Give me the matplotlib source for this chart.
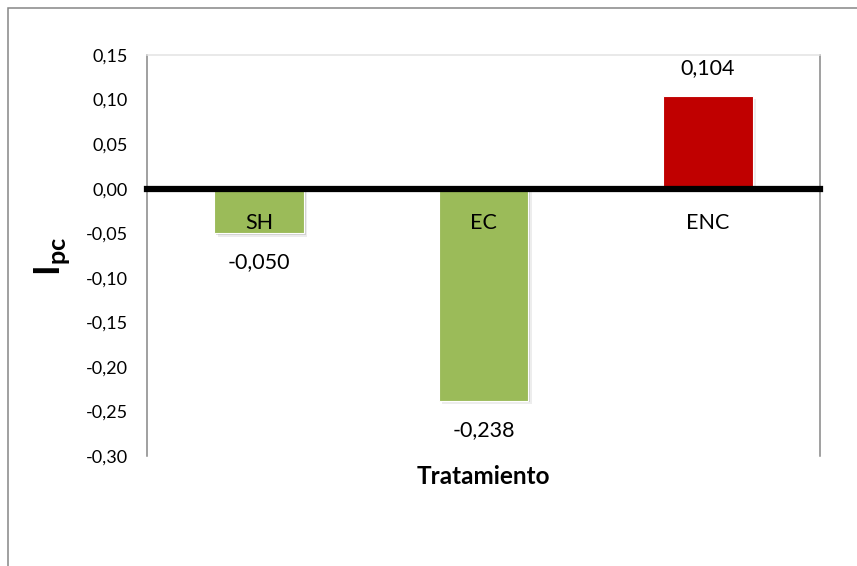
import matplotlib
matplotlib.use("Agg")
import matplotlib.pyplot as plt
import matplotlib.patheffects as pe
from matplotlib.patches import Rectangle

plt.rcParams['font.family'] = ['Lato', 'DejaVu Sans']
plt.rcParams['mathtext.fontset'] = 'custom'
plt.rcParams['mathtext.rm'] = 'Lato'
plt.rcParams['mathtext.bf'] = 'Lato:bold'

tratamientos = ['SH', 'EC', 'ENC']
ipc = [-0.050, -0.238, 0.104]
colores = ['#9BBB59', '#9BBB59', '#C00000']
yticks = [0.15, 0.10, 0.05, 0.00, -0.05, -0.10, -0.15, -0.20, -0.25, -0.30]


def coma(v, dec):
    return f'{v:.{dec}f}'.replace('.', ',')


fig = plt.figure(figsize=(8.57, 5.66), dpi=100)
ax = fig.add_axes([147 / 857, 110 / 566, 673 / 857, 401 / 566])

sombra = [pe.SimplePatchShadow(offset=(1.2, -1.2), shadow_rgbFace='#555555', alpha=0.18),
          pe.SimplePatchShadow(offset=(2.4, -2.4), shadow_rgbFace='#555555', alpha=0.10),
          pe.Normal()]
x = range(len(tratamientos))
barras = ax.bar(x, ipc, width=0.4, color=colores, edgecolor='white', linewidth=0.8, zorder=1)
for b in barras:
    b.set_path_effects(sombra)

ax.set_xlim(-0.5, 2.5)
ax.set_ylim(-0.30, 0.15)
ax.set_yticks(yticks)
ax.set_yticklabels([coma(v, 2) for v in yticks])

# eje horizontal grueso en cero, con las etiquetas justo debajo
ax.spines['bottom'].set_position(('data', 0))
ax.spines['bottom'].set_linewidth(4.5)
ax.spines['bottom'].set_color('black')
ax.spines['bottom'].set_zorder(3)
ax.spines['left'].set_color('#868686')
ax.spines['left'].set_linewidth(1.1)
ax.spines['right'].set_color('#868686')
ax.spines['right'].set_linewidth(1.1)
ax.spines['top'].set_color('#E3E3E3')
ax.spines['top'].set_linewidth(1.1)

ax.set_xticks(list(x))
ax.set_xticklabels(tratamientos, fontsize=15.5)
ax.tick_params(axis='x', length=0, pad=17.5)
ax.tick_params(axis='y', length=0, pad=14, labelsize=13)

for i, v in zip(x, ipc):
    off = 20 if v > 0 else -21
    ax.annotate(coma(v, 3), (i, v), xytext=(0, off), textcoords='offset points',
                ha='center', va='center', fontsize=15.5)

fig.text(483 / 857, 1 - 477 / 566, 'Tratamiento', ha='center', va='center',
         fontsize=17.5, fontweight='bold')
fig.text(52 / 857, 1 - 256 / 566, r'$\mathbf{I}_{\mathbf{pc}}$', rotation=90,
         ha='center', va='center', fontsize=26)

# marco exterior del grafico
fig.patches.append(Rectangle((8 / 857, -0.2), 1.3, 1.2 - 8 / 566,
                             transform=fig.transFigure, fill=False,
                             edgecolor='#868686', linewidth=1.1))

fig.savefig('out.png', dpi=100)
